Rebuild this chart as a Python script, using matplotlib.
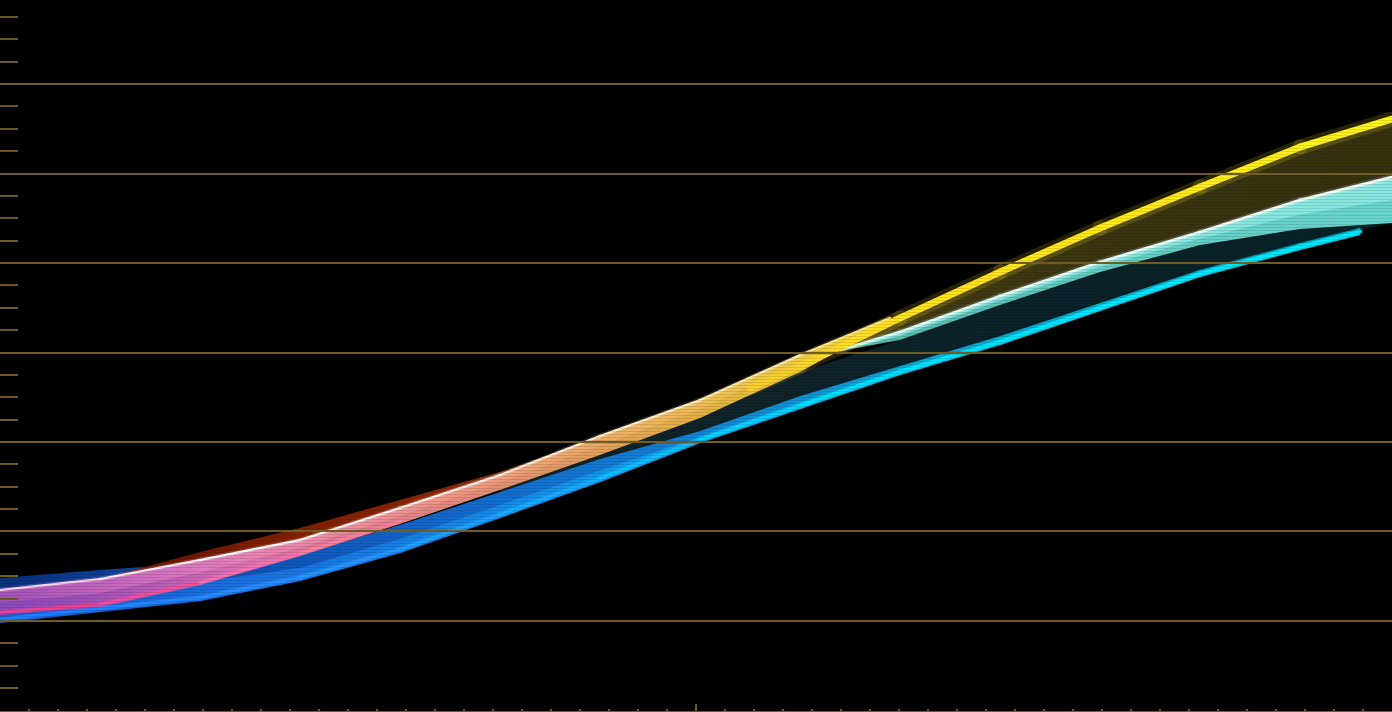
import numpy as np
import matplotlib
matplotlib.use("Agg")
import matplotlib.pyplot as plt
from matplotlib.colors import LinearSegmentedColormap
from matplotlib.ticker import FixedLocator

# ---------------- data (scope units: x 0..48 columns, y 0..80 level) ----------------
grid_levels = [10, 20, 30, 40, 50, 60, 70]
minor_levels = [v for v in np.arange(2.5, 80, 2.5) if v % 10 != 0]
x_major_ticks = [24]
x_minor_ticks = list(range(1, 48))

# blue -> cyan trace
x_cyan = [0, 3.45, 6.90, 10.34, 13.79, 17.24, 20.69, 24.14, 27.59, 31.03, 34.48, 37.93, 41.38, 44.83, 46.90]
cyan_low = [9.78, 11.01, 12.23, 14.47, 17.60, 21.51, 25.53, 29.89, 33.69, 37.49, 40.84, 44.64, 48.44, 51.45, 53.13]
cyan_high = [14.80, 15.70, 16.48, 17.37, 20.73, 24.41, 28.10, 31.23, 35.14, 38.49, 41.84, 45.53, 49.22, 52.23, 53.91]

# warm trace (pink -> salmon -> orange)
x_warm = [0, 3.45, 6.90, 10.34, 13.79, 17.24, 20.69, 24.14, 27.59, 30.69]
warm_top = [13.46, 14.69, 16.82, 19.05, 22.63, 26.31, 30.67, 34.69, 39.72, 43.86]
warm_low = [10.67, 11.56, 14.02, 17.26, 20.84, 24.64, 28.55, 32.68, 37.82, 43.41]

# dark red fringe above warm trace
x_red = [3.45, 6.90, 10.34, 13.79, 17.24, 19.66]
red_top = [14.69, 17.71, 20.39, 23.52, 26.65, 29.33]
red_low = [14.69, 16.82, 19.05, 22.63, 26.31, 29.33]

# dark teal region between traces
x_teal = [17.24, 20.69, 24.14, 27.59, 31.03, 34.48, 37.93, 41.38, 44.83, 48]
teal_top = [24.64, 28.55, 32.68, 37.82, 41.40, 45.31, 48.99, 52.01, 53.80, 54.47]
teal_low = [24.41, 28.10, 31.23, 35.14, 38.49, 41.84, 45.53, 49.22, 52.23, 54.47]

# yellow trace
x_yellow = [25.86, 27.59, 28.97, 31.03, 34.48, 37.93, 41.38, 44.83, 48]
yellow = [36.03, 38.49, 40.61, 43.85, 48.99, 53.91, 58.49, 62.96, 66.09]

# light cyan trace (and olive area between it and the yellow trace)
x_lc = [28.97, 31.03, 34.48, 37.93, 41.38, 44.83, 48]
lc_top = [40.28, 42.29, 46.31, 50.11, 53.46, 57.04, 59.61]
lc_low = [40.17, 41.40, 45.31, 48.99, 52.01, 53.80, 54.47]
olive_top = [40.61, 43.85, 48.99, 53.91, 58.49, 62.96, 66.09]

# ---------------- drawing ----------------
GOLD = "#6e5c22"
fig = plt.figure(figsize=(13.92, 7.12), dpi=100, facecolor="black")
ax = fig.add_axes([0, 0, 1, 1])
ax.set_facecolor("black")


def band(x, lo, hi, colors, alpha=1.0, z=1.0):
    poly = ax.fill_between(x, lo, hi, facecolor="none", edgecolor="none", zorder=z)
    path = poly.get_paths()[0]
    cmap = LinearSegmentedColormap.from_list("c", colors)
    grad = np.linspace(0, 1, 256)[None, :]
    im = ax.imshow(grad, cmap=cmap, extent=[min(x), max(x), min(lo), max(hi)],
                   aspect="auto", origin="lower", alpha=alpha, zorder=z,
                   interpolation="bilinear")
    im.set_clip_path(path, ax.transData)
    return im


def glow_line(x, y, colors, lw, z, alpha=1.0):
    cmap = LinearSegmentedColormap.from_list("l", colors)
    n = len(x)
    for i in range(n - 1):
        c = cmap(i / max(n - 2, 1))
        ax.plot(x[i:i + 2], y[i:i + 2], color=c, lw=lw * 2.2, alpha=0.16 * alpha,
                solid_capstyle="round", zorder=z)
        ax.plot(x[i:i + 2], y[i:i + 2], color=c, lw=lw, alpha=alpha,
                solid_capstyle="round", zorder=z + 0.01)


mid = lambda a, b: [(p + q) / 2 for p, q in zip(a, b)]

# dark teal region
band(x_teal, teal_low, teal_top, ["#16262a", "#10262c", "#0b252c", "#08242a"], alpha=0.95, z=0.5)
# olive fill under the yellow trace
band(x_lc, lc_top, olive_top, ["#4a4212", "#3e3812", "#3a3410"], alpha=0.95, z=0.6)

# blue / cyan band (dark upper part, brighter lower part)
band(x_cyan, cyan_low, cyan_high, ["#0b3585", "#1256c0", "#1670d8", "#1588e0", "#10a8d8", "#10a8c8", "#0e98b0"],
     alpha=0.95, z=0.8)
band(x_cyan, cyan_low, mid(cyan_low, cyan_high),
     ["#1a6ae8", "#1f7cf0", "#1a90f0", "#10b0f0", "#08d0f0", "#05e0f8", "#05e0f8"], alpha=0.7, z=0.85)
glow_line(x_cyan, [l + 0.4 for l in cyan_low],
          ["#1f80ff", "#2a90ff", "#18b0ff", "#00e0ff", "#00eaff", "#00eaff"], 2.6, 1.0)

# light cyan band
band(x_lc, lc_low, lc_top, ["#58c0b8", "#68d8d0", "#70e2da"], alpha=0.95, z=1.1)
band(x_lc, mid(lc_low, lc_top), lc_top, ["#a0f0e8", "#98f4ec", "#a0f8f0"], alpha=0.6, z=1.12)
glow_line(x_lc, lc_top, ["#d8fff8", "#f4fffd"], 2.0, 1.2)

# dark red fringe
band(x_red, red_low, red_top, ["#601200", "#8a2000", "#902808", "#a03010"], alpha=0.95, z=1.3)

# warm band
band(x_warm, warm_low, warm_top,
     ["#9048b8", "#b858b8", "#e878b0", "#f08898", "#f09a78", "#f0b058", "#f2c840", "#f5d530"],
     alpha=0.95, z=1.4)
band(x_warm, mid(warm_low, warm_top), warm_top,
     ["#c060c0", "#e880c8", "#f898c0", "#f8a0a0", "#f8ac80", "#f8c070", "#f8d060", "#f8d848"],
     alpha=0.5, z=1.42)
glow_line(x_warm[:5], [w + 0.3 for w in warm_low[:5]], ["#ff3c8c", "#ff4c9c", "#ff70b0", "#ff80a0"], 2.0, 1.5,
          alpha=0.9)
glow_line(x_warm, warm_top, ["#ffd0f0", "#ffffff", "#fff0e8", "#fff0c8", "#ffe890"], 1.6, 1.6)

# yellow trace
glow_line(x_yellow, yellow, ["#f8d030", "#ffe020", "#ffe81a", "#fff020"], 5.0, 1.7)

# subtle scan striations
ax.hlines(np.arange(0, 80, 0.34), 0, 48, color="black", alpha=0.12, lw=0.6, zorder=2.0)

# graticule
for lv in grid_levels:
    ax.axhline(lv, color=GOLD, lw=1.5, zorder=10)

ax.set_xlim(0, 48)
ax.set_ylim(-0.17, 79.39)

ax.yaxis.set_major_locator(FixedLocator(grid_levels))
ax.yaxis.set_minor_locator(FixedLocator(minor_levels))
ax.xaxis.set_major_locator(FixedLocator(x_major_ticks))
ax.xaxis.set_minor_locator(FixedLocator(x_minor_ticks))
ax.tick_params(axis="y", which="major", length=0, labelleft=False)
ax.tick_params(axis="y", which="minor", direction="in", length=13, width=1.5, color=GOLD, left=True)
ax.tick_params(axis="x", which="major", direction="in", length=5.5, width=1.5, color=GOLD,
               labelbottom=False, bottom=True)
ax.tick_params(axis="x", which="minor", direction="in", length=2, width=1.5, color=GOLD, bottom=True)
for s in ["top", "right", "left"]:
    ax.spines[s].set_visible(False)
ax.spines["bottom"].set_color(GOLD)
ax.spines["bottom"].set_linewidth(1.5)
ax.spines["bottom"].set_zorder(10)

fig.savefig("out.png", dpi=100, facecolor="black")
